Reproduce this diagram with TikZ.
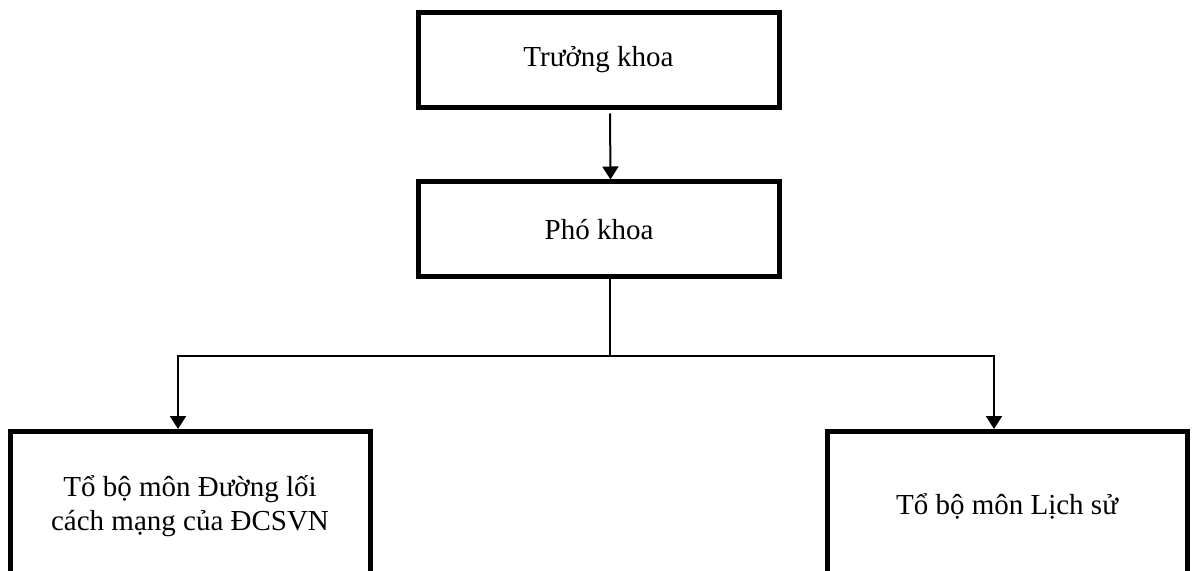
\documentclass[tikz,border=0pt]{standalone}
\usepackage{fontspec}
\setmainfont{Liberation Serif}
\usetikzlibrary{positioning, arrows.meta}

\tikzset{
  khoa/.style={draw, line width=2.5pt, minimum width=180.5pt, minimum height=47.5pt,
    align=center, font=\fontsize{14.5}{16.7}\selectfont},
  bomon/.style={khoa, minimum width=180pt, minimum height=74.5pt},
  noi/.style={line width=1pt},
  mui/.style={noi, -{Triangle[length=6.5pt,width=8pt]}}
}

\begin{document}
\begin{tikzpicture}[x=0.5pt,y=-0.5pt]
	\useasboundingbox (0,0) rectangle (1193,571);
	
	\node[khoa] (truong) at (598.5,60) {Trưởng khoa};
	\node[khoa] (pho) at (599,229.5) {Phó khoa};
	\foreach \x/\ten [count=\n] in {190/{Tổ bộ môn Đường lối\\cách mạng của ĐCSVN},1007/{Tổ bộ môn Lịch sử}}
	\node[bomon] (tbm\n) at (\x,506) {\ten};
	
	\draw[mui] ([xshift=5.75pt,yshift=-1.75pt]truong.south) -- ([xshift=5.75pt]pho.north);
	
	% nhanh xuong hai to bo mon
	\coordinate (fork) at (610,356);
	\draw[noi] (pho.south -| fork) -- (fork);
	\draw[mui] (fork) -| ([xshift=-6pt]tbm1.north);
	\draw[mui] (fork) -| ([xshift=-6.5pt]tbm2.north);
\end{tikzpicture}
\end{document}
